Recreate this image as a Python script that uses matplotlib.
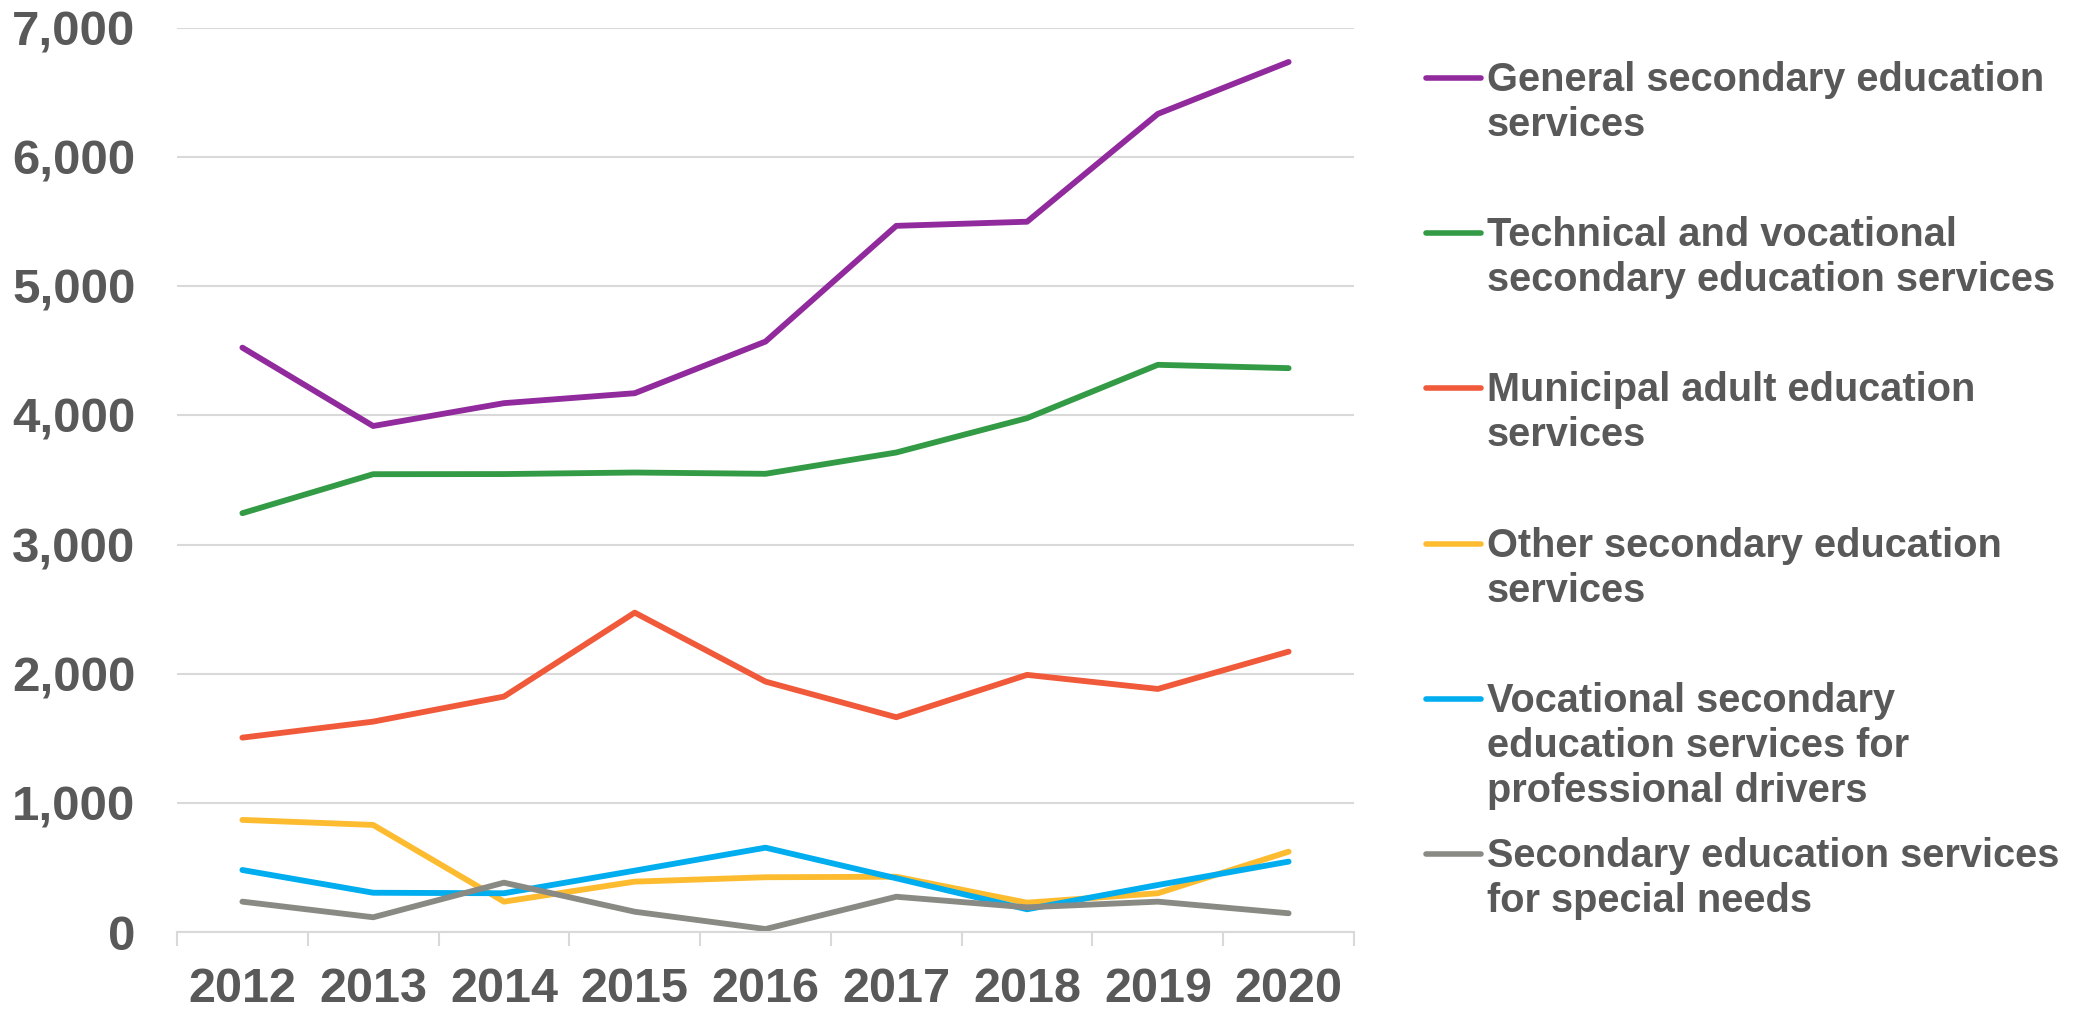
import matplotlib.pyplot as plt
from matplotlib.lines import Line2D
from matplotlib.ticker import FuncFormatter, MultipleLocator
import numpy as np

years = ['2012', '2013', '2014', '2015', '2016', '2017', '2018', '2019', '2020']

general = [4525, 3918, 4095, 4172, 4572, 5468, 5500, 6335, 6737]
technical = [3243, 3545, 3546, 3558, 3548, 3713, 3979, 4392, 4366]
municipal = [1505, 1629, 1823, 2473, 1939, 1663, 1991, 1882, 2171]
other = [868, 829, 235, 390, 424, 428, 227, 300, 622]
drivers = [480, 304, 300, 475, 653, 416, 176, 364, 545]
special = [235, 114, 382, 157, 23, 273, 191, 235, 145]

labels = [
    'General secondary education\nservices',
    'Technical and vocational\nsecondary education services',
    'Municipal adult education\nservices',
    'Other secondary education\nservices',
    'Vocational secondary\neducation services for\nprofessional drivers',
    'Secondary education services\nfor special needs',
]
colors = ['#912A9C', '#339B45', '#F05A3A', '#FDBB30', '#00ADEF', '#8A8A84']
series = [general, technical, municipal, other, drivers, special]

txt = '#595959'
plt.rcParams['font.family'] = ['Liberation Sans', 'DejaVu Sans']
plt.rcParams['font.weight'] = 'bold'

fig = plt.figure(figsize=(20.87, 10.09), dpi=100)
W, H = 2087, 1009
ax = fig.add_axes([177 / W, 1 - 932 / H, (1354 - 177) / W, (932 - 28) / H])

x = np.arange(len(years))
for vals, c in zip(series, colors):
    ax.plot(x, vals, color=c, lw=4.2, solid_capstyle='round', solid_joinstyle='round')

ax.set_xlim(-0.5, len(years) - 0.5)
ax.set_ylim(0, 7000)
ax.yaxis.set_major_locator(MultipleLocator(1000))
ax.yaxis.set_major_formatter(FuncFormatter(lambda v, p: f'{int(v):,}'))
ax.grid(axis='y', color='#D9D9D9', lw=1.5)
ax.set_axisbelow(True)

ax.set_xticks(x)
ax.set_xticklabels(years)
ax.set_xticks(np.arange(-0.5, len(years)), minor=True)
ax.tick_params(axis='x', which='major', length=0, pad=25, labelsize=35, labelcolor=txt)
ax.tick_params(axis='x', which='minor', length=10, width=1.5, color='#D9D9D9')
ax.tick_params(axis='y', length=0, pad=30, labelsize=35.5, labelcolor=txt)

for s in ['top', 'right', 'left']:
    ax.spines[s].set_visible(False)
ax.spines['bottom'].set_color('#D9D9D9')
ax.spines['bottom'].set_linewidth(1.5)

# legend drawn by hand so the line sits level with the first text row
handle_y = [78, 233, 388, 544, 699, 854]
for lab, c, hy in zip(labels, colors, handle_y):
    fy = 1 - hy / H
    fig.add_artist(Line2D([1426 / W, 1481 / W], [fy, fy], color=c, lw=4,
                          solid_capstyle='round', transform=fig.transFigure))
    for i, line in enumerate(lab.split('\n')):
        by = hy + 13 + i * 45
        fig.text(1487 / W, 1 - by / H, line, fontsize=28.6, color=txt,
                 fontweight='bold', va='baseline', ha='left')

fig.savefig('out.png', dpi=100)
